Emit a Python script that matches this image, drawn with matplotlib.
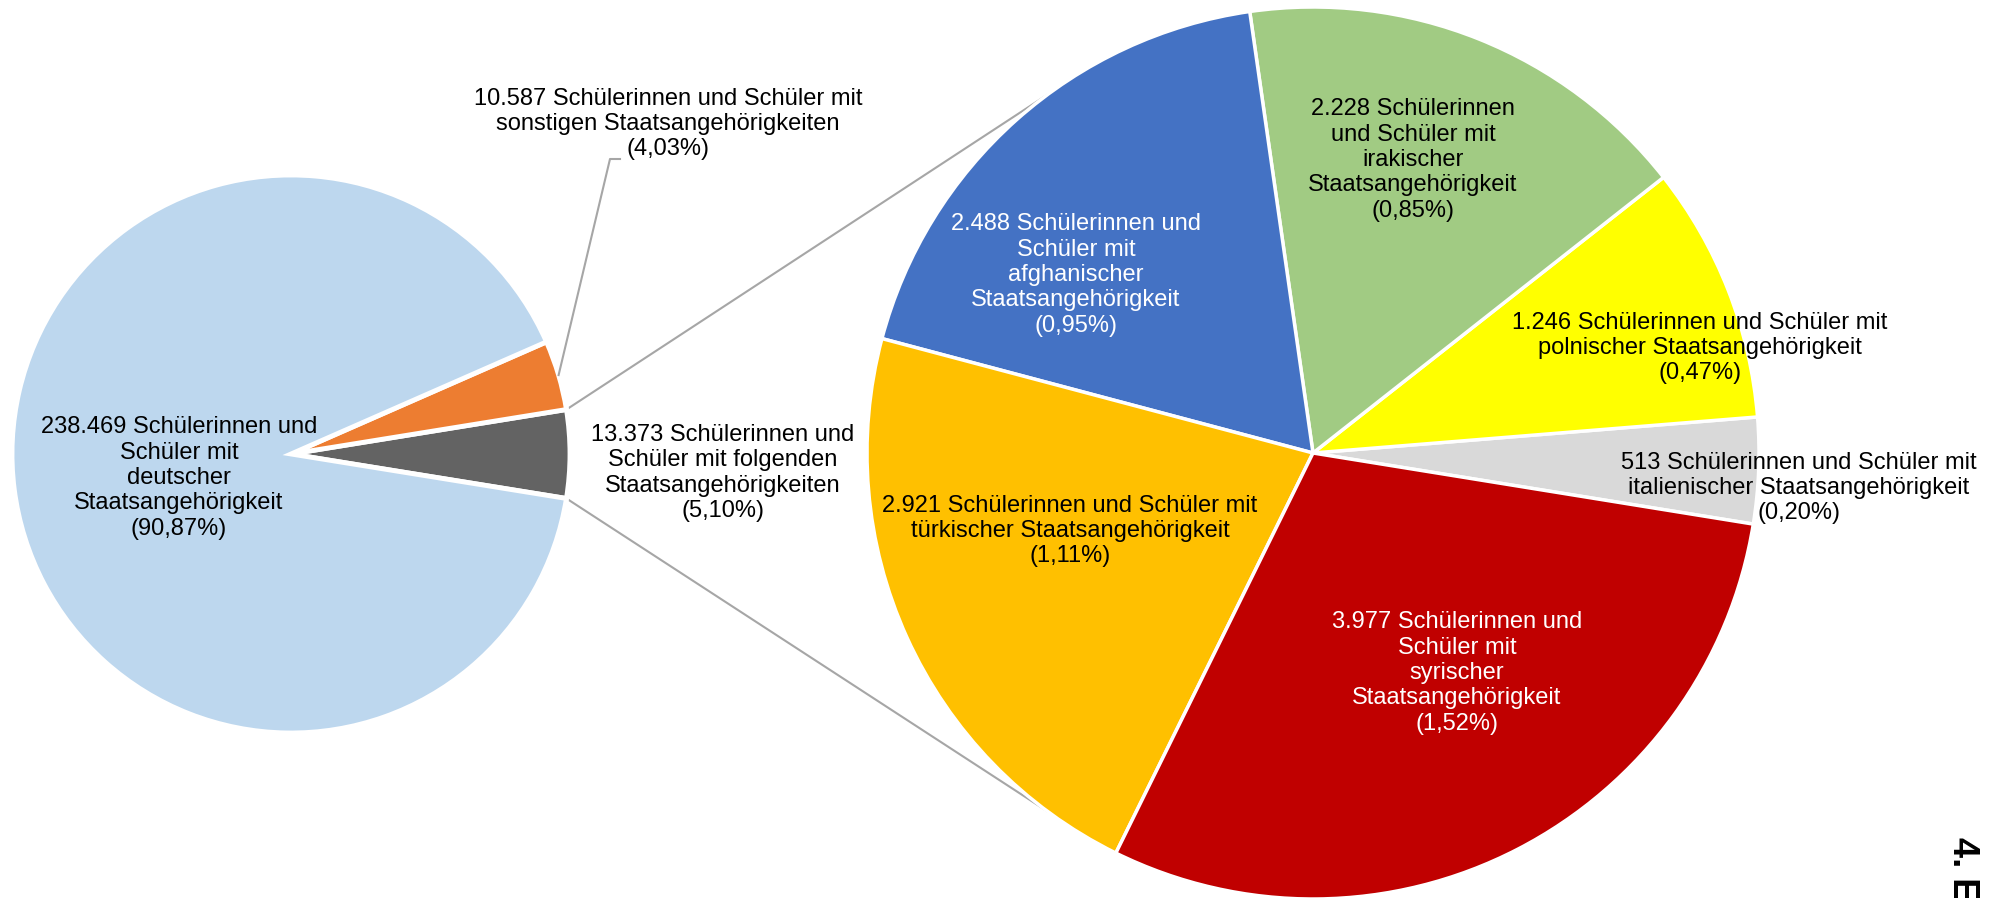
import matplotlib.pyplot as plt
import numpy as np

plt.rcParams['font.family'] = ['Liberation Sans', 'DejaVu Sans']

# linker Kreis: alle Schülerinnen und Schüler
main_counts = [13373, 10587, 238469]
main_colors = ["#636363", "#ED7D31", "#BDD7EE"]
main_labels = [
    "{n} Schülerinnen und\nSchüler mit folgenden\nStaatsangehörigkeiten\n({p})",
    "{n} Schülerinnen und Schüler mit\nsonstigen Staatsangehörigkeiten\n({p})",
    "{n} Schülerinnen und\nSchüler mit\ndeutscher\nStaatsangehörigkeit\n({p})",
]

# rechter Kreis: Aufteilung der 13.373
detail_counts = [513, 1246, 2228, 2488, 2921, 3977]
detail_colors = ["#D9D9D9", "#FFFF00", "#A1CB83", "#4472C4", "#FFC000", "#C00000"]
detail_labels = [
    "{n} Schülerinnen und Schüler mit\nitalienischer Staatsangehörigkeit\n({p})",
    "{n} Schülerinnen und Schüler mit\npolnischer Staatsangehörigkeit\n({p})",
    "{n} Schülerinnen\nund Schüler mit\nirakischer\nStaatsangehörigkeit\n({p})",
    "{n} Schülerinnen und\nSchüler mit\nafghanischer\nStaatsangehörigkeit\n({p})",
    "{n} Schülerinnen und Schüler mit\ntürkischer Staatsangehörigkeit\n({p})",
    "{n} Schülerinnen und\nSchüler mit\nsyrischer\nStaatsangehörigkeit\n({p})",
]
detail_text_colors = ["black", "black", "black", "white", "black", "white"]

total = sum(main_counts)


def fmt(n):
    pct = f"{n / total * 100:.2f}%".replace(".", ",")
    return f"{n:,}".replace(",", "."), pct


W, H = 2006, 898
fig = plt.figure(figsize=(W / 100, H / 100), dpi=100)
ax = fig.add_axes([0, 0, 1, 1])

# Lage der Kreise (Bildkoordinaten, y nach unten)
cL, rL = (291, 454), 279
cR, rR = (1313, 453), 446
start = -main_counts[0] / total * 360 / 2

ax.pie(main_counts, colors=main_colors, startangle=start, counterclock=True,
       center=(cL[0], H - cL[1]), radius=rL,
       wedgeprops=dict(edgecolor="white", linewidth=3.5))
ax.pie(detail_counts, colors=detail_colors, startangle=start, counterclock=True,
       center=(cR[0], H - cR[1]), radius=rR,
       wedgeprops=dict(edgecolor="white", linewidth=2.5))

# Verbindungslinien
line_kw = dict(color="#A6A6A6", lw=1.5, zorder=0)
a0 = np.radians(start)
a1 = np.radians(126.5)
for s in (1, -1):
    x0 = cL[0] + rL * np.cos(a0)
    y0 = H - cL[1] - s * rL * np.sin(a0)
    x1 = cR[0] + rR * np.cos(a1)
    y1 = H - cR[1] + s * rR * np.sin(a1)
    ax.plot([x0, x1], [y0, y1], **line_kw)

# Führungslinie zum Label "sonstige"
mid = np.radians(start + main_counts[0] / total * 360 + main_counts[1] / total * 360 / 2)
ax.plot([cL[0] + rL * np.cos(mid), 610, 620],
        [H - cL[1] + rL * np.sin(mid), H - 159, H - 159], color="#A6A6A6", lw=1.5)

# Beschriftungen
main_pos = [(723, 473), (668, 124), (179, 478)]
for n, tmpl, (x, y) in zip(main_counts, main_labels, main_pos):
    s, p = fmt(n)
    ax.text(x, H - y, tmpl.format(n=s, p=p), ha="center", va="center",
            fontsize=17, color="black")

detail_pos = [(1799, 488), (1700, 348), (1413, 160), (1076, 275), (1070, 531), (1457, 673)]
for n, tmpl, (x, y), c in zip(detail_counts, detail_labels, detail_pos, detail_text_colors):
    s, p = fmt(n)
    ax.text(x, H - y, tmpl.format(n=s, p=p), ha="center", va="center",
            fontsize=17, color=c)

ax.text(1963, H - 837, "4. E", rotation=-90, fontsize=26, fontweight="bold",
        ha="center", va="top")

ax.set_xlim(0, W)
ax.set_ylim(0, H)
ax.set_aspect("equal")
ax.axis("off")

fig.savefig("out.png", dpi=100)
